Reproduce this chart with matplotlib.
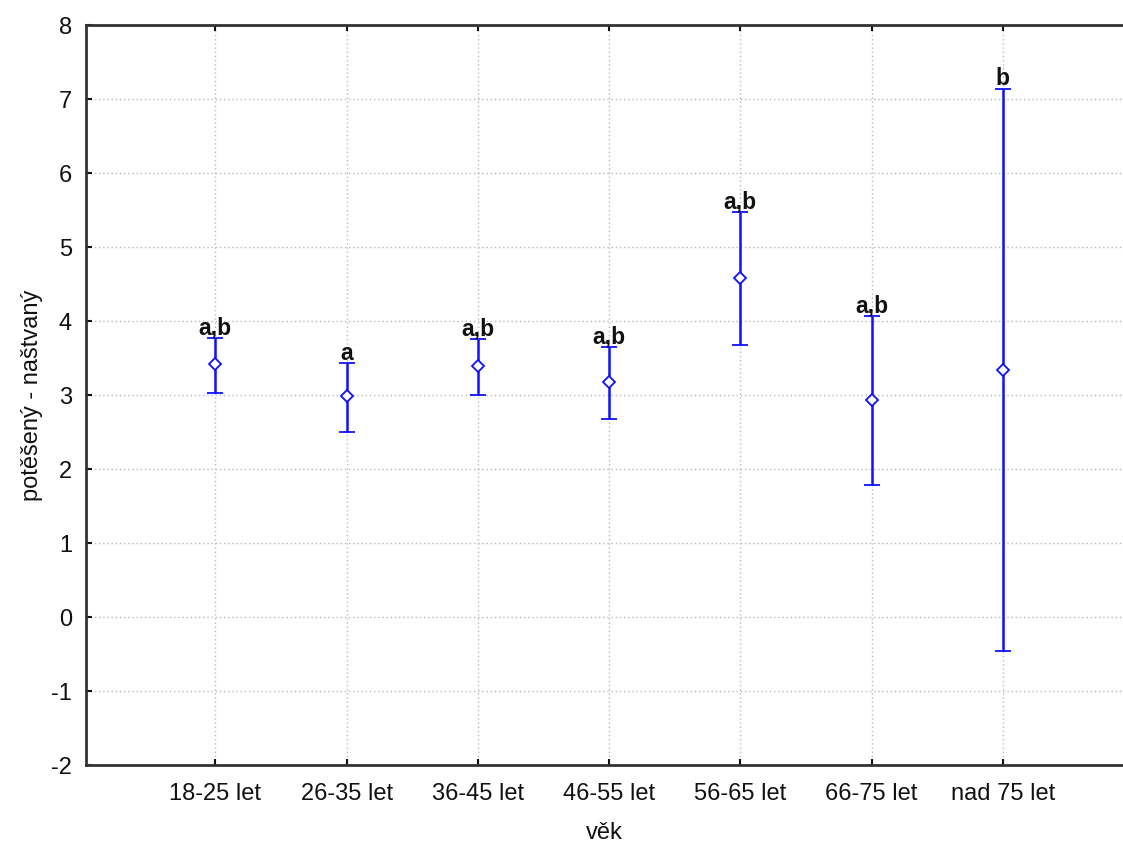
import matplotlib.pyplot as plt

# mean and interval bounds per age group
groups = ["18-25 let", "26-35 let", "36-45 let", "46-55 let", "56-65 let", "66-75 let", "nad 75 let"]
means = [3.42, 2.99, 3.39, 3.18, 4.58, 2.93, 3.34]
upper = [3.77, 3.43, 3.76, 3.65, 5.47, 4.07, 7.14]
lower = [3.03, 2.50, 3.00, 2.68, 3.68, 1.78, -0.46]
letters = ["a,b", "a", "a,b", "a,b", "a,b", "a,b", "b"]

plt.rcParams['font.family'] = ['Liberation Sans', 'DejaVu Sans']
plt.rcParams['axes.unicode_minus'] = False

fig = plt.figure(figsize=(11.23, 8.46), dpi=100)
ax = fig.add_axes([86 / 1123, 1 - 765 / 846, 1 - 86 / 1123, (765 - 25) / 846])

x = list(range(len(groups)))
err_lo = [m - l for m, l in zip(means, lower)]
err_hi = [u - m for m, u in zip(means, upper)]

ax.errorbar(x, means, yerr=[err_lo, err_hi], fmt='D', color='#1010ff',
            markerfacecolor='white', markeredgecolor='#1010ff', markersize=6,
            markeredgewidth=1.3, elinewidth=1.8, capsize=6, capthick=1.8, zorder=3)

for xi, u, lab in zip(x, upper, letters):
    ax.annotate(lab, (xi, u), xytext=(0, -1), textcoords='offset points',
                ha='center', va='bottom', fontsize=16.5, fontweight='bold', color='#111111')

ax.set_xlim(-0.985, 6.915)
ax.set_ylim(-2, 8)
ax.set_yticks(range(-2, 9))
ax.set_xticks(x)
ax.set_xticklabels(groups)

ax.grid(True, linestyle=(0, (1, 2)), color='#b8b8b8', linewidth=1)
ax.tick_params(axis='both', direction='in', length=4, width=1.5, labelsize=17, colors='#111111')
ax.tick_params(axis='x', top=True, pad=13)
ax.tick_params(axis='y', pad=10)

for side in ['left', 'top', 'bottom']:
    ax.spines[side].set_linewidth(2)
    ax.spines[side].set_color('#333333')
ax.spines['right'].set_visible(False)

ax.set_xlabel("věk", fontsize=17, color='#111111', labelpad=12)
ax.set_ylabel("potěšený - naštvaný", fontsize=17, color='#111111', labelpad=6)

fig.savefig("out.png", dpi=100)
